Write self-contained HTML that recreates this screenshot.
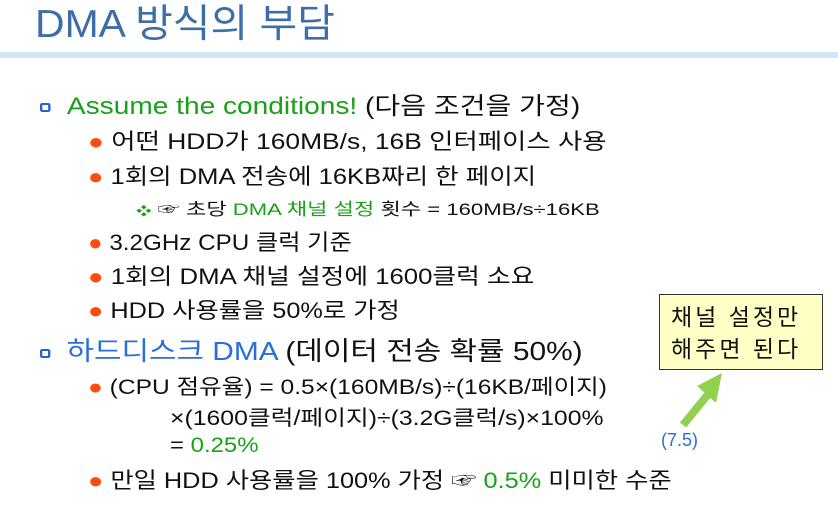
<!DOCTYPE html>
<html><head><meta charset="utf-8"><style>
body{margin:0;width:838px;height:523px;background:#fff;position:relative;overflow:hidden;font-family:"Liberation Sans","Noto Sans CJK KR","NanumGothic",sans-serif;color:#111}
.t{position:absolute;white-space:nowrap;line-height:1;transform-origin:0 50%}
.g{color:#1aa01a}.b{color:#2a6fd6}
.dot{color:#ff4a10}
.sq{display:inline-block;width:9px;height:9px;border:2px solid #2a5fd0;border-radius:2px;box-sizing:border-box;margin-right:14px;vertical-align:middle}
</style></head><body>
<div class="t" style="left:35px;top:5px;font-size:39px;color:#3d6ea8;transform:scaleX(1.05)">DMA 방식의 부담</div>
<div style="position:absolute;left:0;top:52px;width:838px;height:6px;background:#cfe6f7"></div>
<div class="t" style="left:40px;top:95px;font-size:24px;transform:scaleX(1.17)"><span class="sq"></span><span class="g">Assume the conditions!</span> (다음 조건을 가정)</div>
<div class="t" style="left:88px;top:131px;font-size:22px;transform:scaleX(1.2)"><span class="dot">●</span> 어떤 HDD가 160MB/s, 16B 인터페이스 사용</div>
<div class="t" style="left:88px;top:166px;font-size:22px;transform:scaleX(1.16)"><span class="dot">●</span> 1회의 DMA 전송에 16KB짜리 한 페이지</div>
<div class="t" style="left:136px;top:201px;font-size:17px;transform:scaleX(1.3)"><span class="g" style="font-size:12px">❖</span> ☞ 초당 <span class="g">DMA 채널 설정</span> 횟수 = 160MB/s÷16KB</div>
<div class="t" style="left:88px;top:232px;font-size:22px;transform:scaleX(1.1)"><span class="dot">●</span> 3.2GHz CPU 클럭 기준</div>
<div class="t" style="left:88px;top:266px;font-size:22px;transform:scaleX(1.17)"><span class="dot">●</span> 1회의 DMA 채널 설정에 1600클럭 소요</div>
<div class="t" style="left:88px;top:300px;font-size:22px;transform:scaleX(1.15)"><span class="dot">●</span> HDD 사용률을 50%로 가정</div>
<div class="t" style="left:40px;top:338px;font-size:26px;transform:scaleX(1.15)"><span class="sq"></span><span class="b">하드디스크 DMA</span> (데이터 전송 확률 50%)</div>
<div class="t" style="left:88px;top:377px;font-size:21px;transform:scaleX(1.17)"><span class="dot">●</span> (CPU 점유율) = 0.5×(160MB/s)÷(16KB/페이지)</div>
<div class="t" style="left:170px;top:408px;font-size:21px;transform:scaleX(1.18)">×(1600클럭/페이지)÷(3.2G클럭/s)×100%</div>
<div class="t" style="left:170px;top:435px;font-size:21px;transform:scaleX(1.14)">= <span class="g">0.25%</span></div>
<div class="t" style="left:88px;top:470px;font-size:22px;transform:scaleX(1.15)"><span class="dot">●</span> 만일 HDD 사용률을 100% 가정 ☞ <span class="g">0.5%</span> 미미한 수준</div>
<div style="position:absolute;left:659px;top:294px;width:164px;height:76px;background:#ffffc6;border:1px solid #333;font-size:23px;line-height:32px;padding:6px 0 0 11px;box-sizing:border-box;letter-spacing:3px">채널 설정만<br>해주면 된다</div>
<svg style="position:absolute;left:0;top:0" width="838" height="523"><line x1="683" y1="425" x2="710" y2="392" stroke="#92d050" stroke-width="8"/><polygon points="722,373 697,386 716,403" fill="#92d050"/></svg>
<div class="t b" style="left:661px;top:431px;font-size:18px">(7.5)</div>
</body></html>
